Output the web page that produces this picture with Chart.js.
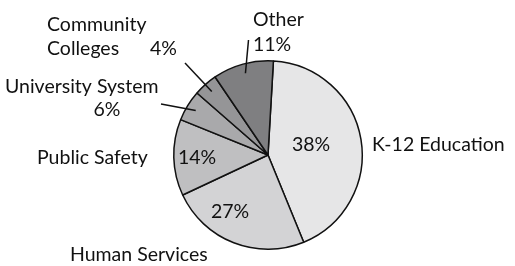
<!DOCTYPE html>
<html>
<head>
<meta charset="utf-8">
<script src="https://cdn.jsdelivr.net/npm/chart.js@4/dist/chart.umd.min.js"></script>
<style>
  html, body { margin: 0; padding: 0; background: #fff; }
  canvas { display: block; }
</style>
</head>
<body>
<canvas id="myChart" width="515" height="266"></canvas>
<script>
// slices as drawn (share of the circle), and the printed percentages
var categories = ['K-12 Education', 'Human Services', 'Public Safety', 'University System', 'Community Colleges', 'Other'];
var shares = [42.9, 24.2, 13.1, 5.3, 4.1, 10.4];
var pctLabels = ['38%', '27%', '14%', '6%', '4%', '11%'];
var colors = ['#e6e6e7', '#d3d3d5', '#bfbfc1', '#a9a9ab', '#959597', '#7f7f81'];

var FONT = '19.5px Lato, "Open Sans", sans-serif';

// text placed relative to the pie centre: [text, dx, dy, align]
var outsideText = [
    ['K-12 Education', 104, -10, 'left'],
    ['Human Services', -198, 100, 'left'],
    ['Public Safety', -231, 3, 'left'],
    ['University System', -263, -68, 'left'],
    ['6%', -161, -45, 'center'],
    ['Community', -221, -130, 'left'],
    ['Colleges', -221, -106, 'left'],
    ['4%', -118, -106, 'left'],
    ['Other', -15, -135, 'left'],
    ['11%', -15, -110, 'left']
];
// percent labels inside slices: [slice index, dx, dy]
var insideText = [[0, 43, -10], [1, -38, 57], [2, -71, 3]];
// leader lines: [slice index, outer dx, outer dy]
var leaders = [[5, -19.5, -115], [4, -83, -92], [3, -107, -51]];

var labelPlugin = {
    id: 'labels',
    afterDraw: function(chart) {
        var ctx = chart.ctx;
        var arcs = chart.getDatasetMeta(0).data;
        var cx = arcs[0].x, cy = arcs[0].y, R = arcs[0].outerRadius;
        ctx.save();
        ctx.strokeStyle = '#111';
        ctx.lineWidth = 1.5;
        leaders.forEach(function(l) {
            var a = arcs[l[0]];
            var mid = (a.startAngle + a.endAngle) / 2;
            ctx.beginPath();
            ctx.moveTo(cx + l[1], cy + l[2]);
            ctx.lineTo(cx + Math.cos(mid) * R * 0.9, cy + Math.sin(mid) * R * 0.9);
            ctx.stroke();
        });
        ctx.fillStyle = '#111';
        ctx.font = FONT;
        ctx.textBaseline = 'middle';
        ctx.textAlign = 'center';
        insideText.forEach(function(t) {
            ctx.fillText(pctLabels[t[0]], cx + t[1], cy + t[2]);
        });
        outsideText.forEach(function(t) {
            ctx.textAlign = t[3];
            ctx.fillText(t[0], cx + t[1], cy + t[2]);
        });
        ctx.restore();
    }
};

var config = {
    type: 'pie',
    data: {
        labels: categories,
        datasets: [{
            data: shares,
            backgroundColor: colors,
            borderColor: '#111',
            borderWidth: 1.5
        }]
    },
    options: {
        responsive: false,
        animation: false,
        rotation: 3.3,
        layout: { padding: { left: 173, right: 152, top: 60, bottom: 16 } },
        plugins: {
            legend: { display: false },
            tooltip: { enabled: false }
        }
    },
    plugins: [labelPlugin]
};

var myPieChart = new Chart(document.getElementById('myChart'), config);
</script>
</body>
</html>
